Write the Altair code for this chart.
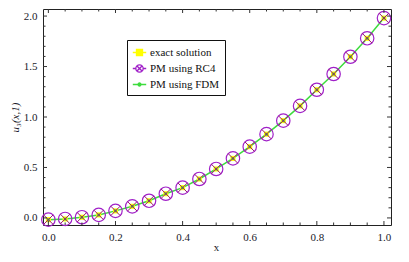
import altair as alt
import pandas as pd

xs = [0.0, 0.05, 0.1, 0.15, 0.2, 0.25, 0.3, 0.35, 0.4, 0.45, 0.5,
      0.55, 0.6, 0.65, 0.7, 0.75, 0.8, 0.85, 0.9, 0.95, 1.0]
ys = [-0.017, -0.01, 0.007, 0.03, 0.07, 0.115, 0.17, 0.24, 0.30, 0.386, 0.485,
      0.59, 0.706, 0.83, 0.964, 1.11, 1.27, 1.426, 1.597, 1.78, 1.98]

series = ["exact solution", "PM using RC4", "PM using FDM"]
x_major = [0.0, 0.2, 0.4, 0.6, 0.8, 1.0]
x_minor = [0.05, 0.1, 0.15, 0.25, 0.3, 0.35, 0.45, 0.5, 0.55, 0.65, 0.7, 0.75, 0.85, 0.9, 0.95]
y_major = [0.0, 0.5, 1.0, 1.5, 2.0]
y_minor = [0.1, 0.2, 0.3, 0.4, 0.6, 0.7, 0.8, 0.9, 1.1, 1.2, 1.3, 1.4, 1.6, 1.7, 1.8, 1.9]

W, H = 348, 216
FONT = "Liberation Serif"
TXT = "#1a1a2a"
GREEN = "#3ddc3d"
PURPLE = "#a020c8"
CROSS = "#9a1a6a"
YELLOW = "#ffff00"

df = pd.DataFrame({"x": xs, "y": ys})

xscale = alt.Scale(domain=[-0.016, 1.021], nice=False, zero=False)
yscale = alt.Scale(domain=[-0.07, 2.07], nice=False, zero=False)

xenc = alt.X("x:Q", scale=xscale,
             axis=alt.Axis(values=x_major, format=".1f", ticks=False, domain=False, grid=False,
                           labelPadding=6, labelFont=FONT, labelFontSize=11, labelColor=TXT,
                           title="x", titleX=173, titleY=25, titleBaseline="alphabetic",
                           titleFont=FONT, titleFontSize=11, titleColor=TXT,
                           titleFontWeight="normal"))
yenc = alt.Y("y:Q", scale=yscale,
             axis=alt.Axis(values=y_major, format=".1f", ticks=False, domain=False, grid=False,
                           labelPadding=6, labelFont=FONT, labelFontSize=11, labelColor=TXT,
                           title="u\u2083(x,1)", titleX=-28, titleY=108,
                           titleAngle=270, titleAlign="center", titleBaseline="middle",
                           titleFont=FONT, titleFontSize=11, titleColor=TXT,
                           titleFontWeight="normal", titleFontStyle="italic"))

base = alt.Chart(df)

line = base.mark_line(color=GREEN, strokeWidth=1.5).encode(x=xenc, y=yenc)
sq = base.mark_point(shape="square", filled=True, color=YELLOW, size=26, opacity=1).encode(x="x:Q", y="y:Q")
dot = base.mark_point(shape="circle", filled=True, color=GREEN, size=9, opacity=1).encode(x="x:Q", y="y:Q")
circ = base.mark_point(shape="circle", filled=False, color=PURPLE, size=180, strokeWidth=1.2, opacity=1).encode(x="x:Q", y="y:Q")
cross = base.mark_point(shape="M-1,-1L1,1M-1,1L1,-1", filled=False, color=CROSS, size=90,
                        strokeWidth=1.0, opacity=1).encode(x="x:Q", y="y:Q")

# legend layer (clipped out of view, legend only)
leg_df = pd.DataFrame({"s": series, "x": [-5.0] * 3, "y": [-5.0] * 3})
sym_sq = "M-1,0L1,0M-0.45,-0.45L0.45,-0.45L0.45,0.45L-0.45,0.45Z"
sym_rc = ("M-1,0L-0.55,0M0.55,0L1,0M0.55,0A0.55,0.55 0 1,1 -0.55,0A0.55,0.55 0 1,1 0.55,0Z"
          "M-0.38,-0.38L0.38,0.38M-0.38,0.38L0.38,-0.38")
sym_fd = "M-1,0L1,0M0.22,0A0.22,0.22 0 1,1 -0.22,0A0.22,0.22 0 1,1 0.22,0Z"
legend_layer = alt.Chart(leg_df).mark_point(clip=True, opacity=1, strokeWidth=1.2).encode(
    x="x:Q", y="y:Q",
    color=alt.Color("s:N", scale=alt.Scale(domain=series, range=[YELLOW, PURPLE, GREEN]),
                    legend=alt.Legend(title=None, orient="none", legendX=84, legendY=31,
                                      strokeColor="#111", fillColor="white", padding=5,
                                      symbolSize=180, labelFont=FONT, labelFontSize=11,
                                      labelColor="#111", rowPadding=2, symbolStrokeWidth=1.3,
                                      labelOffset=3)),
    fill=alt.Fill("s:N", scale=alt.Scale(domain=series, range=[YELLOW, "transparent", GREEN]),
                  legend=alt.Legend(title=None)),
    shape=alt.Shape("s:N", scale=alt.Scale(domain=series, range=[sym_sq, sym_rc, sym_fd]),
                    legend=alt.Legend(title=None)),
)

# inward frame ticks
TC = "#333"
xmaj = pd.DataFrame({"v": x_major})
xmin = pd.DataFrame({"v": x_minor})
ymaj = pd.DataFrame({"v": y_major})
ymin = pd.DataFrame({"v": y_minor})

def xticks(d, length):
    b = alt.Chart(d).mark_rule(color=TC, strokeWidth=1)
    return (b.encode(x=alt.X("v:Q", scale=xscale), y=alt.value(H), y2=alt.value(H - length)) +
            b.encode(x=alt.X("v:Q", scale=xscale), y=alt.value(0), y2=alt.value(length)))

def yticks(d, length):
    b = alt.Chart(d).mark_rule(color=TC, strokeWidth=1)
    return (b.encode(y=alt.Y("v:Q", scale=yscale), x=alt.value(0), x2=alt.value(length)) +
            b.encode(y=alt.Y("v:Q", scale=yscale), x=alt.value(W), x2=alt.value(W - length)))

chart = alt.layer(
    line, sq, dot, circ, cross, legend_layer,
    xticks(xmaj, 4), xticks(xmin, 2.5), yticks(ymaj, 4), yticks(ymin, 2.5),
).properties(
    width=W, height=H,
    background="white",
    autosize=alt.AutoSizeParams(type="none"),
    padding={"left": 35, "top": 1, "right": 10, "bottom": 29},
).configure_view(
    stroke="#222", strokeWidth=1
)

chart.save("out.html", embed_options={"renderer": "svg", "actions": False})
